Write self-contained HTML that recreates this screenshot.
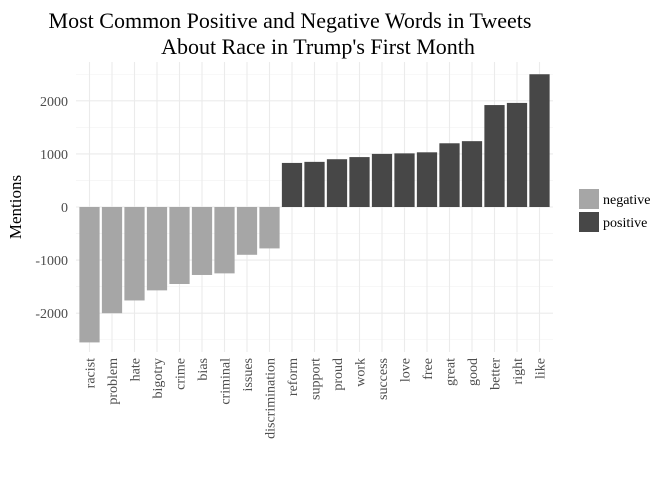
<!DOCTYPE html>
<html><head><meta charset="utf-8"><style>
body{margin:0;background:#fff;}
svg text{font-family:"Liberation Serif",serif;}
</style></head><body>
<svg id="chart" width="672" height="480" xmlns="http://www.w3.org/2000/svg">
<text x="290" y="28" font-size="22" text-anchor="middle" fill="#000">Most Common Positive and Negative Words in Tweets</text>
<text x="318" y="54" font-size="22" text-anchor="middle" fill="#000">About Race in Trump's First Month</text>
<g id="grid"></g><g id="bars"></g><g id="axes"></g>
<text x="21" y="207" font-size="17" text-anchor="middle" transform="rotate(-90 21 207)">Mentions</text>
<rect x="579" y="189" width="20" height="20" fill="#a6a6a6"/>
<text x="603" y="204" font-size="14">negative</text>
<rect x="579" y="212" width="20" height="20" fill="#474747"/>
<text x="603" y="227" font-size="14">positive</text>
</svg>
<script>
const categories=["racist","problem","hate","bigotry","crime","bias","criminal","issues","discrimination","reform","support","proud","work","success","love","free","great","good","better","right","like"];
const values=[-2550,-2000,-1760,-1570,-1450,-1280,-1250,-900,-780,830,850,900,940,1000,1010,1030,1200,1240,1920,1960,2500];
const yTicks=[-2000,-1000,0,1000,2000];
const yTickLabels=["-2000","-1000","0","1000","2000"];
const NS="http://www.w3.org/2000/svg";
const pLeft=76,pRight=553,pTop=62,pBottom=352;
const n=categories.length;
const step=(pRight-pLeft)/(n+0.2);
function xs(i){return pLeft+step*(0.6+i);}
function ys(v){return 207-v*0.0531;}
function mk(t,a,p){const e=document.createElementNS(NS,t);for(const k in a)e.setAttribute(k,a[k]);p.appendChild(e);return e;}
const g=document.getElementById('grid'),b=document.getElementById('bars'),ax=document.getElementById('axes');
mk('rect',{x:pLeft,y:pTop,width:pRight-pLeft,height:pBottom-pTop,fill:'#fff'},g);
for(let i=0;i<yTicks.length-1;i++){const m=(yTicks[i]+yTicks[i+1])/2;const l=mk('line',{x1:pLeft,x2:pRight,y1:ys(m),y2:ys(m),stroke:'#f2f2f2','stroke-width':0.6},g);

}
[-2500,2500].forEach(m=>{const l=mk('line',{x1:pLeft,x2:pRight,y1:ys(m),y2:ys(m),stroke:'#f2f2f2','stroke-width':0.6},g);

});
yTicks.forEach((v,i)=>{const l=mk('line',{x1:pLeft,x2:pRight,y1:ys(v),y2:ys(v),stroke:'#ebebeb','stroke-width':1.1},g);


const t=mk('text',{x:68,y:ys(v)+5,'font-size':14,'text-anchor':'end',fill:'#4d4d4d'},ax);t.textContent=yTickLabels[i];

});
categories.forEach((c,i)=>{const cx=xs(i);
const l=mk('line',{x1:cx,x2:cx,y1:pTop,y2:pBottom,stroke:'#ebebeb','stroke-width':1.1},g);


const v=values[i],bw=step*0.9;
const r=mk('rect',{x:cx-bw/2,y:Math.min(ys(v),ys(0)),width:bw,height:Math.abs(ys(v)-ys(0)),fill:v<0?'#a6a6a6':'#474747'},b);


const t=mk('text',{x:cx+5,y:358,'font-size':14,'text-anchor':'end',fill:'#4d4d4d',transform:`rotate(-90 ${cx+5} 358)`},ax);t.textContent=c;

});
</script>
</body></html>
